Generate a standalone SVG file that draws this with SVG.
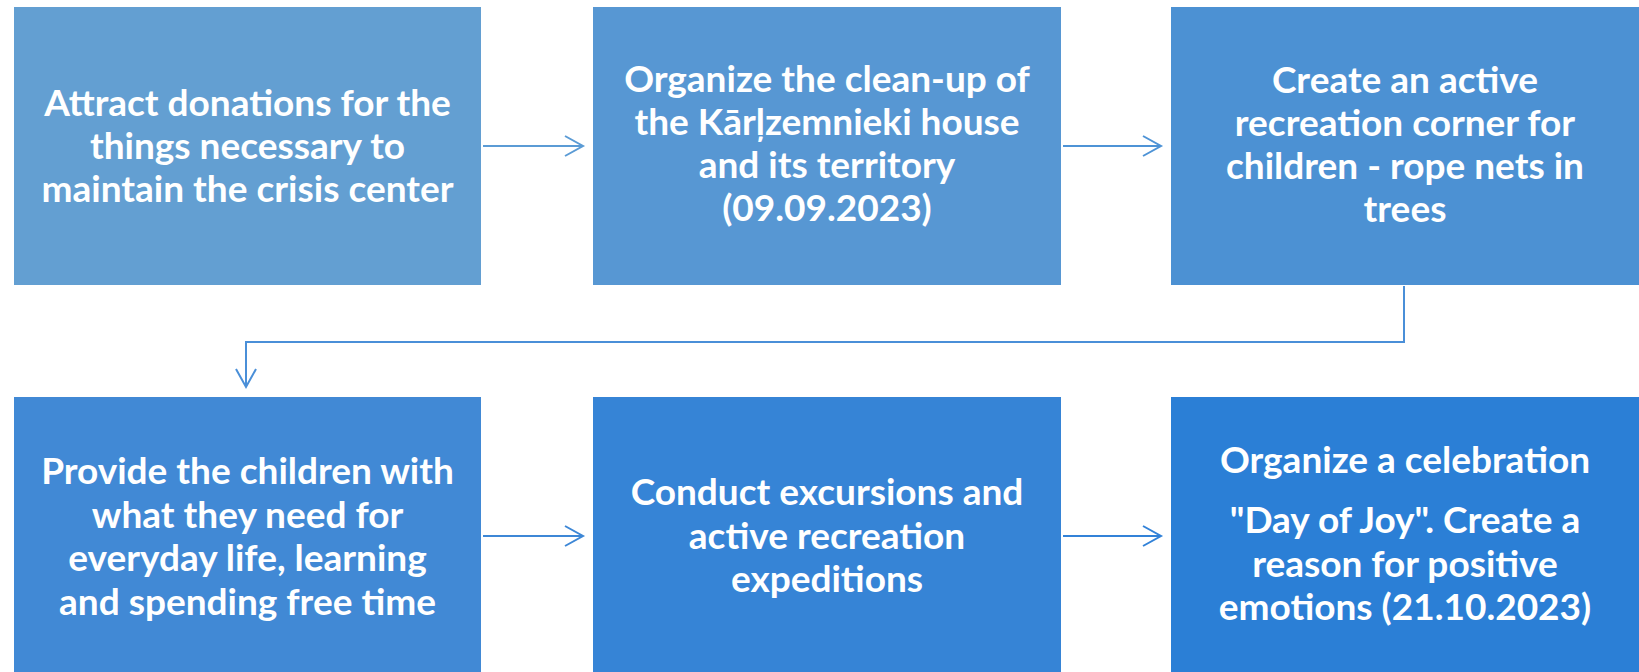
<svg xmlns="http://www.w3.org/2000/svg" width="1639" height="672" viewBox="0 0 1639 672">
<style>
.lbl{font-family:Lato,"Open Sans","Liberation Sans",sans-serif;font-weight:700;font-size:37px;fill:#ffffff;text-anchor:middle}
.con{fill:none;stroke-width:2}
.head{fill:none;stroke-width:2;stroke-linejoin:miter}
</style>
<rect width="1639" height="672" fill="#ffffff"/>
<g id="n1">
<rect x="14" y="7" width="467" height="278" fill="#639FD2"/>
<text class="lbl" x="247.5" y="116">Attract donations for the</text>
<text class="lbl" x="247.5" y="159">things necessary to</text>
<text class="lbl" x="247.5" y="202">maintain the crisis center</text>
</g>
<g id="n2">
<rect x="593" y="7" width="468" height="278" fill="#5797D3"/>
<text class="lbl" x="827" y="92">Organize the clean-up of</text>
<text class="lbl" x="827" y="135">the Kārļzemnieki house</text>
<text class="lbl" x="827" y="178">and its territory</text>
<text class="lbl" x="827" y="221">(09.09.2023)</text>
</g>
<g id="n3">
<rect x="1171" y="7" width="468" height="278" fill="#4C91D3"/>
<text class="lbl" x="1405" y="93">Create an active</text>
<text class="lbl" x="1405" y="136">recreation corner for</text>
<text class="lbl" x="1405" y="179">children - rope nets in</text>
<text class="lbl" x="1405" y="222">trees</text>
</g>
<g id="n4">
<rect x="14" y="397" width="467" height="275" fill="#4189D5"/>
<text class="lbl" x="247.5" y="484">Provide the children with</text>
<text class="lbl" x="247.5" y="528">what they need for</text>
<text class="lbl" x="247.5" y="571">everyday life, learning</text>
<text class="lbl" x="247.5" y="615">and spending free time</text>
</g>
<g id="n5">
<rect x="593" y="397" width="468" height="275" fill="#3684D6"/>
<text class="lbl" x="827" y="505">Conduct excursions and</text>
<text class="lbl" x="827" y="549">active recreation</text>
<text class="lbl" x="827" y="592">expeditions</text>
</g>
<g id="n6">
<rect x="1171" y="397" width="468" height="275" fill="#2B7FD6"/>
<text class="lbl" x="1405" y="473">Organize a celebration</text>
<text class="lbl" x="1405" y="533">"Day of Joy". Create a</text>
<text class="lbl" x="1405" y="577">reason for positive</text>
<text class="lbl" x="1405" y="620">emotions (21.10.2023)</text>
</g>
<g id="connectors">
<g stroke="#5B9BD5">
<path class="con" d="M483 146 H582"/>
<path class="head" d="M565 136 L583 146 L565 156"/>
</g>
<g stroke="#4E93D6">
<path class="con" d="M1063 146 H1160"/>
<path class="head" d="M1143 136 L1161 146 L1143 156"/>
</g>
<g stroke="#4A8FD8">
<path class="con" d="M1404 286 V342 H246 V386"/>
<path class="head" d="M236 369 L246 387 L256 369"/>
</g>
<g stroke="#3D87D6">
<path class="con" d="M483 536 H582"/>
<path class="head" d="M565 526 L583 536 L565 546"/>
</g>
<g stroke="#3282D8">
<path class="con" d="M1063 536 H1160"/>
<path class="head" d="M1143 526 L1161 536 L1143 546"/>
</g>
</g>
</svg>
